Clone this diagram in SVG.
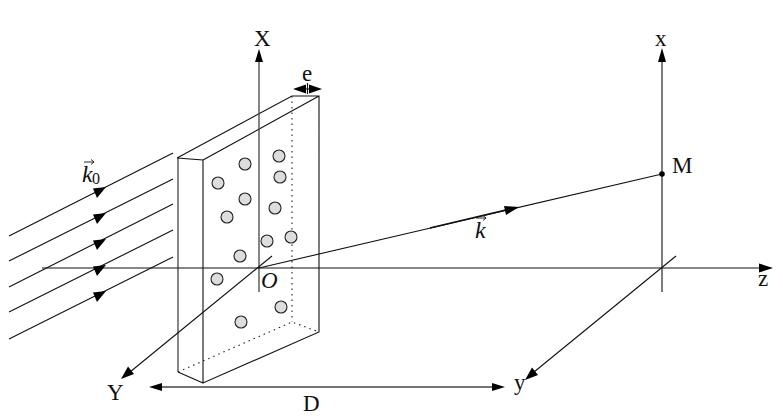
<svg xmlns="http://www.w3.org/2000/svg" width="783" height="420" viewBox="0 0 783 420">
<style>
.l{fill:none;stroke:#111;stroke-width:1.1}
.g{fill:none;stroke:#444;stroke-width:1.3}
.d{fill:none;stroke:#222;stroke-width:1.1;stroke-dasharray:1.5 4}
.p{fill:#ddd;stroke:#222;stroke-width:1.1}
.h{fill:#000;stroke:none}
text{font-family:"Liberation Serif","Times New Roman",serif;font-size:23px;fill:#111}
.i{font-style:italic}
</style>
<rect width="783" height="420" fill="#fff"/>
<g id="slab">
<path class="g" d="M178 158V372"/>
<path class="l" d="M177 158L292 96H319V332L203 383V160L177 158M203 160L319 96M178 372L203 383"/>
<path class="d" d="M292 96V322M178 372L292 322L319 332"/>
</g>
<g id="particles">
<circle class="p" cx="279" cy="156" r="6"/>
<circle class="p" cx="245" cy="164" r="6"/>
<circle class="p" cx="218" cy="183" r="6"/>
<circle class="p" cx="280" cy="177" r="6"/>
<circle class="p" cx="245" cy="199" r="6"/>
<circle class="p" cx="275" cy="208" r="6"/>
<circle class="p" cx="227" cy="217" r="6"/>
<circle class="p" cx="267" cy="241" r="6"/>
<circle class="p" cx="291" cy="237" r="6"/>
<circle class="p" cx="240" cy="256" r="6"/>
<circle class="p" cx="217" cy="279" r="6"/>
<circle class="p" cx="281" cy="307" r="6"/>
<circle class="p" cx="241" cy="322" r="6"/>
</g>
<g id="connectors">
<path class="g" d="M259 292V60"/>
<polygon class="h" points="259,49 255,62 263,62"/>
<path class="l" d="M42 268H762"/>
<polygon class="h" points="773,268 759,263.500 759,272.500"/>
<path class="l" d="M272 256L130 372"/>
<polygon class="h" points="121,379 128,366.500 134,374"/>
<path class="l" d="M662 292V60"/>
<polygon class="h" points="662,48 658,62 666,62"/>
<path class="l" d="M676 256L534 372"/>
<polygon class="h" points="525,380 532,367.500 538,375"/>
<path class="l" d="M259 268L662 174"/>
<path fill="none" stroke="#111" stroke-width="1.600" d="M430 228L510 209"/>
<polygon class="h" points="519,207 504,206 506,215"/>
<path class="g" d="M160 387H495"/>
<polygon class="h" points="149,387 162,383 162,391"/>
<polygon class="h" points="505,387 492,383 492,391"/>
<path class="l" d="M307.500 83V94"/>
<path class="l" d="M296 89H318"/>
<polygon class="h" points="293,89 306,84.500 306,93.500"/>
<polygon class="h" points="322,89 309,84.500 309,93.500"/>
<path class="l" d="M173 153L9 236"/>
<path class="l" d="M173 179L9 261"/>
<path class="l" d="M173 204L9 287"/>
<path class="l" d="M173 230L9 312"/>
<path class="l" d="M173 257L9 339"/>
<polygon class="h" points="106,187 93,188.500 97,198"/>
<polygon class="h" points="106,213 93,214.500 97,224"/>
<polygon class="h" points="106,239 93,240.500 97,250"/>
<polygon class="h" points="106,265 93,266.500 97,276"/>
<polygon class="h" points="106,291 93,292.500 97,302"/>
</g>
<g id="point-M"><circle cx="662" cy="174" r="2.800" fill="#000"/><text x="672" y="173">M</text></g>
<g id="labels">
<text x="254" y="46">X</text>
<text x="302" y="81">e</text>
<text x="655" y="46">x</text>
<text x="758" y="286">z</text>
<text x="514" y="390">y</text>
<text x="107" y="400">Y</text>
<text x="303" y="411">D</text>
<text class="i" x="261" y="288">O</text>
<text class="i" x="82" y="182" style="font-size:24px">k</text><text x="92" y="184" style="font-size:16px">0</text>
<text class="i" x="475" y="238" style="font-size:24px">k</text>
</g>
<g id="vector-arrows" fill="none" stroke="#111" stroke-width="0.900">
<path d="M84 162H94M91 159.500L94 162L91 164.500"/>
<path d="M476 218H486M483 215.500L486 218L483 220.500"/>
</g>
</svg>
